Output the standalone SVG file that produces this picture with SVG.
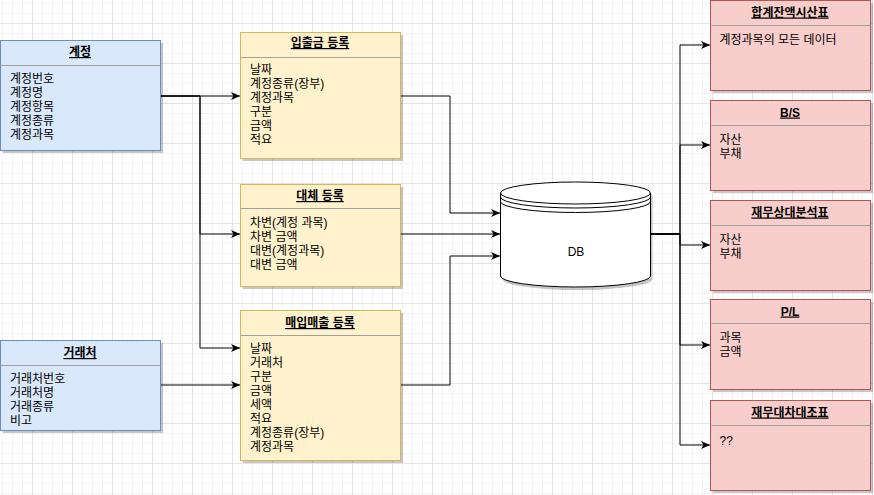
<svg xmlns="http://www.w3.org/2000/svg" width="874" height="495" viewBox="0 0 874 495">
<style>
text{font-family:"Liberation Sans","Noto Sans CJK KR",sans-serif;font-size:12px;fill:#000}
.t{font-weight:bold;text-anchor:middle;text-decoration:underline}
.blue{fill:#dae8fc;stroke:#6c8ebf;stroke-width:1}
.yel{fill:#fff2cc;stroke:#d6b656;stroke-width:1}
.red{fill:#f8cecc;stroke:#b85450;stroke-width:1}
.div{stroke:#a0a0a0;stroke-width:1;fill:none}
.sh{fill:#000;opacity:0.22}
.c{fill:none;stroke:#000;stroke-width:1}
</style>
<defs>
<pattern id="minor" patternUnits="userSpaceOnUse" x="2" y="3" width="10" height="10">
<path d="M0.5,0V10M0,0.5H10" stroke="#f3f3f3" stroke-width="1" fill="none"/>
</pattern>
<pattern id="major" patternUnits="userSpaceOnUse" x="32" y="23" width="40" height="40">
<path d="M0.5,0V40M0,0.5H40" stroke="#e4e4e4" stroke-width="1" fill="none"/>
</pattern>
<marker id="arr" markerWidth="10" markerHeight="8" refX="9" refY="4" orient="auto" markerUnits="userSpaceOnUse">
<path d="M0,0L9,4L0,8L2.5,4Z" fill="#000"/>
</marker>
</defs>
<rect width="874" height="495" fill="#fff"/>
<rect width="874" height="495" fill="url(#minor)"/>
<rect width="874" height="495" fill="url(#major)"/>

<g id="connectors">
<path class="c" d="M160,96H240" marker-end="url(#arr)"/>
<path class="c" d="M160,96H200V234H240" marker-end="url(#arr)"/>
<path class="c" d="M160,96H200V348H240" marker-end="url(#arr)"/>
<path class="c" d="M160,385H240" marker-end="url(#arr)"/>
<path class="c" d="M400,96H450V213H500" marker-end="url(#arr)"/>
<path class="c" d="M400,234H500" marker-end="url(#arr)"/>
<path class="c" d="M400,385H450V256H500" marker-end="url(#arr)"/>
<path class="c" d="M650,234H680V45H710" marker-end="url(#arr)"/>
<path class="c" d="M650,234H680V145H710" marker-end="url(#arr)"/>
<path class="c" d="M650,234H680V245H710" marker-end="url(#arr)"/>
<path class="c" d="M650,234H680V345H710" marker-end="url(#arr)"/>
<path class="c" d="M650,234H680V445H710" marker-end="url(#arr)"/>
</g>

<g id="node-gyejeong">
<rect class="sh" x="3" y="43" width="160" height="110"/>
<rect class="blue" x="0.5" y="40.5" width="160" height="110"/>
<path class="div" d="M0.5,65.5H160.5"/>
<text class="t" x="80" y="56">계정</text>
<text x="10" y="83">계정번호</text>
<text x="10" y="97">계정명</text>
<text x="10" y="111">계정항목</text>
<text x="10" y="125">계정종류</text>
<text x="10" y="139">계정과목</text>
</g>

<g id="node-georaecheo">
<rect class="sh" x="3" y="343" width="160" height="90"/>
<rect class="blue" x="0.5" y="340.5" width="160" height="90"/>
<path class="div" d="M0.5,365.5H160.5"/>
<text class="t" x="80" y="357">거래처</text>
<text x="10" y="383">거래처번호</text>
<text x="10" y="397">거래처명</text>
<text x="10" y="411">거래종류</text>
<text x="10" y="425">비고</text>
</g>

<g id="node-ipchulgeum">
<rect class="sh" x="243" y="35" width="160" height="126"/>
<rect class="yel" x="240.5" y="32.5" width="160" height="126"/>
<path class="div" d="M240.5,57.5H400.5"/>
<text class="t" x="320" y="47">입출금 등록</text>
<text x="250" y="74">날짜</text>
<text x="250" y="88">계정종류(장부)</text>
<text x="250" y="102">계정과목</text>
<text x="250" y="116">구분</text>
<text x="250" y="130">금액</text>
<text x="250" y="144">적요</text>
</g>

<g id="node-daeche">
<rect class="sh" x="243" y="187" width="160" height="102"/>
<rect class="yel" x="240.5" y="184.5" width="160" height="102"/>
<path class="div" d="M240.5,208.5H400.5"/>
<text class="t" x="320" y="200">대체 등록</text>
<text x="250" y="227">차변(계정 과목)</text>
<text x="250" y="241">차변 금액</text>
<text x="250" y="255">대변(계정과목)</text>
<text x="250" y="269">대변 금액</text>
</g>

<g id="node-maeip">
<rect class="sh" x="243" y="313" width="160" height="150"/>
<rect class="yel" x="240.5" y="310.5" width="160" height="150"/>
<path class="div" d="M240.5,335.5H400.5"/>
<text class="t" x="320" y="327">매입매출 등록</text>
<text x="250" y="353">날짜</text>
<text x="250" y="367">거래처</text>
<text x="250" y="381">구분</text>
<text x="250" y="395">금액</text>
<text x="250" y="409">세액</text>
<text x="250" y="423">적요</text>
<text x="250" y="437">계정종류(장부)</text>
<text x="250" y="451">계정과목</text>
</g>

<g id="node-db">
<path d="M502.5,196V279A75,11 0 0 0 652.5,279V196A75,11 0 0 0 502.5,196Z" fill="#000" opacity="0.22"/>
<path d="M500.5,193V276A75,11 0 0 0 650.5,276V193A75,11 0 0 0 500.5,193Z" fill="#fff" stroke="#000" stroke-width="1"/>
<path d="M500.5,193A75,11 0 0 0 650.5,193" fill="none" stroke="#000"/>
<path d="M500.5,197A75,11 0 0 0 650.5,197" fill="none" stroke="#000"/>
<path d="M500.5,201.5A75,11 0 0 0 650.5,201.5" fill="none" stroke="#000"/>
<text x="576" y="256" text-anchor="middle">DB</text>
</g>

<g id="node-hapgye">
<rect class="sh" x="713" y="3" width="160" height="90"/>
<rect class="red" x="710.5" y="0.5" width="160" height="90"/>
<path class="div" d="M710.5,25.5H870.5"/>
<text class="t" x="790" y="16.5">합계잔액시산표</text>
<text x="719.5" y="43.5">계정과목의 모든 데이터</text>
</g>

<g id="node-bs">
<rect class="sh" x="713" y="103" width="160" height="90"/>
<rect class="red" x="710.5" y="100.5" width="160" height="90"/>
<path class="div" d="M710.5,125.5H870.5"/>
<text class="t" x="790" y="116.5">B/S</text>
<text x="719.5" y="143.5">자산</text>
<text x="719.5" y="157.5">부채</text>
</g>

<g id="node-jaemusangdae">
<rect class="sh" x="713" y="203" width="160" height="90"/>
<rect class="red" x="710.5" y="200.5" width="160" height="90"/>
<path class="div" d="M710.5,225.5H870.5"/>
<text class="t" x="790" y="216.5">재무상대분석표</text>
<text x="719.5" y="243.5">자산</text>
<text x="719.5" y="257.5">부채</text>
</g>

<g id="node-pl">
<rect class="sh" x="713" y="302" width="160" height="90"/>
<rect class="red" x="710.5" y="299.5" width="160" height="90"/>
<path class="div" d="M710.5,323.5H870.5"/>
<text class="t" x="790" y="315.5">P/L</text>
<text x="719.5" y="341.5">과목</text>
<text x="719.5" y="355.5">금액</text>
</g>

<g id="node-jaemudaecha">
<rect class="sh" x="713" y="403" width="160" height="90"/>
<rect class="red" x="710.5" y="400.5" width="160" height="90"/>
<path class="div" d="M710.5,425.5H870.5"/>
<text class="t" x="790" y="416.5">재무대차대조표</text>
<text x="719.5" y="444.5">??</text>
</g>
</svg>
